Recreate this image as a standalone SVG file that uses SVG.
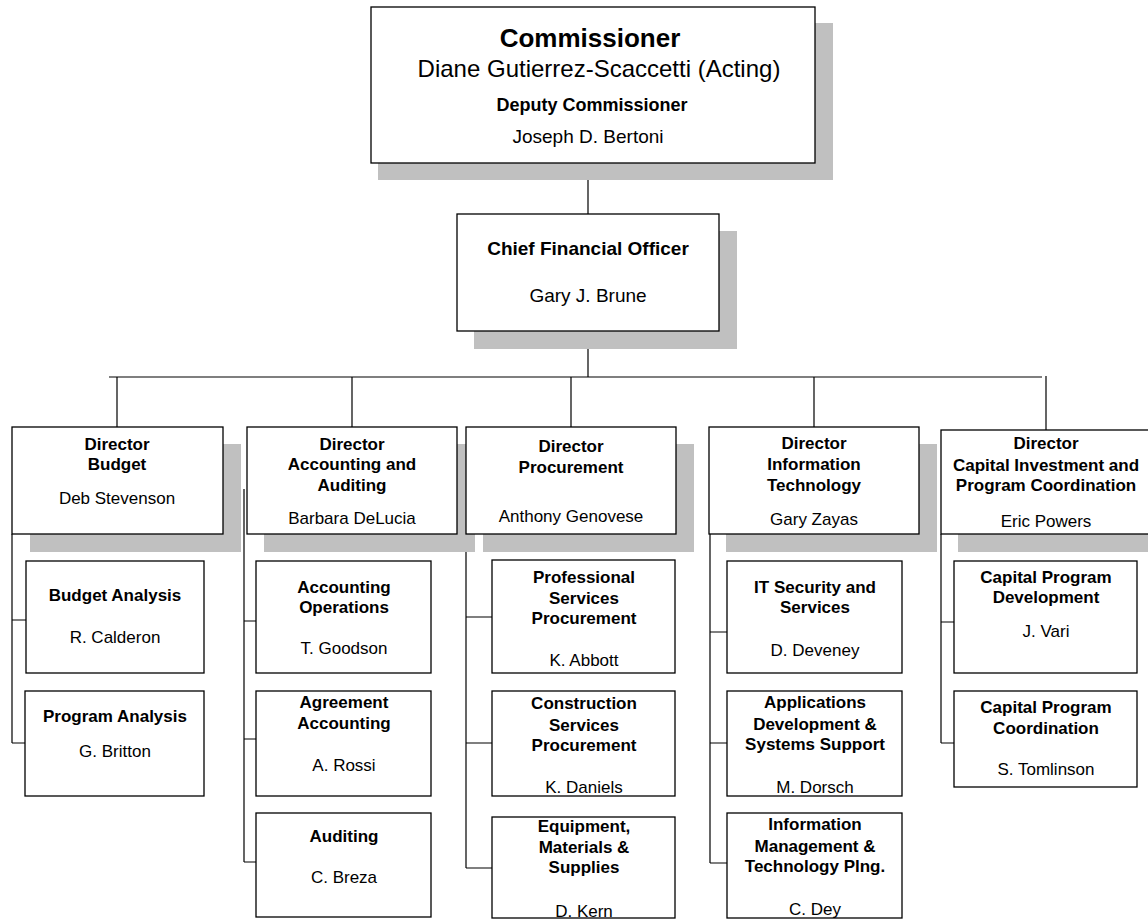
<svg xmlns="http://www.w3.org/2000/svg" width="1148" height="919" viewBox="0 0 1148 919">
<style>
.bg{fill:#ffffff}
.sh{fill:#c0c0c0}
.bx{fill:#ffffff;stroke:#000;stroke-width:1.3}
.ln{stroke:#000;stroke-width:1.2;fill:none}
text{font-family:"Liberation Sans",Arial,sans-serif;fill:#000;text-anchor:middle}
.b{font-weight:bold;font-size:17px}
.r{font-size:17px}
</style>
<rect class="bg" x="0" y="0" width="1148" height="919"/>
<g id="connectors">
<path class="ln" d="M588 163V214M588 331V377M109 377H1042M117 377V427M352 377V427M571 377V427M814 377V427M1046 376V430"/>
<path class="ln" d="M12 534V743M12 620H26M12 743H25"/>
<path class="ln" d="M244 489V862M244 621H256M244 739H256M244 862H256"/>
<path class="ln" d="M466 480V868M466 617H492M466 743H492M466 868H492"/>
<path class="ln" d="M710 534V863M710 632H727M710 743H727M710 863H727"/>
<path class="ln" d="M941 534V743M941 622H954M941 743H954"/>
</g>
<g id="commissioner">
<rect class="sh" x="378" y="23" width="455" height="157"/>
<rect class="bx" x="371" y="7" width="444" height="156"/>
<text x="590" y="47" style="font-weight:bold;font-size:26px">Commissioner</text>
<text x="599" y="77" style="font-size:24px">Diane Gutierrez-Scaccetti (Acting)</text>
<text x="592" y="111" style="font-weight:bold;font-size:18px">Deputy Commissioner</text>
<text x="588" y="143" style="font-size:19px">Joseph D. Bertoni</text>
</g>
<g id="cfo">
<rect class="sh" x="474" y="231" width="263" height="118"/>
<rect class="bx" x="457" y="214" width="262" height="117"/>
<text x="588" y="255" style="font-weight:bold;font-size:19px">Chief Financial Officer</text>
<text x="588" y="302" style="font-size:19px">Gary J. Brune</text>
</g>
<g id="dir-budget">
<rect class="sh" x="30" y="444" width="211" height="108"/>
<rect class="bx" x="12" y="427" width="211" height="107"/>
<text class="b" x="117" y="450">Director</text>
<text class="b" x="117" y="470">Budget</text>
<text class="r" x="117" y="504">Deb Stevenson</text>
</g>
<g id="dir-accounting">
<rect class="sh" x="264" y="444" width="211" height="108"/>
<rect class="bx" x="247" y="427" width="210" height="107"/>
<text class="b" x="352" y="450">Director</text>
<text class="b" x="352" y="470">Accounting and</text>
<text class="b" x="352" y="491">Auditing</text>
<text class="r" x="352" y="524">Barbara DeLucia</text>
</g>
<g id="dir-procurement">
<rect class="sh" x="483" y="444" width="211" height="108"/>
<rect class="bx" x="466" y="427" width="210" height="107"/>
<text class="b" x="571" y="452">Director</text>
<text class="b" x="571" y="473">Procurement</text>
<text class="r" x="571" y="522">Anthony Genovese</text>
</g>
<g id="dir-it">
<rect class="sh" x="726" y="444" width="211" height="108"/>
<rect class="bx" x="709" y="427" width="210" height="107"/>
<text class="b" x="814" y="449">Director</text>
<text class="b" x="814" y="470">Information</text>
<text class="b" x="814" y="491">Technology</text>
<text class="r" x="814" y="525">Gary Zayas</text>
</g>
<g id="dir-capital">
<rect class="sh" x="958" y="444" width="200" height="108"/>
<rect class="bx" x="941" y="430" width="220" height="104"/>
<text class="b" x="1046" y="449">Director</text>
<text class="b" x="1046" y="471">Capital Investment and</text>
<text class="b" x="1046" y="491">Program Coordination</text>
<text class="r" x="1046" y="527">Eric Powers</text>
</g>
<g id="budget-analysis">
<rect class="bx" x="26" y="561" width="178" height="112"/>
<text class="b" x="115" y="601">Budget Analysis</text>
<text class="r" x="115" y="643">R. Calderon</text>
</g>
<g id="program-analysis">
<rect class="bx" x="25" y="691" width="179" height="105"/>
<text class="b" x="115" y="722">Program Analysis</text>
<text class="r" x="115" y="757">G. Britton</text>
</g>
<g id="accounting-operations">
<rect class="bx" x="256" y="561" width="175" height="112"/>
<text class="b" x="344" y="593">Accounting</text>
<text class="b" x="344" y="613">Operations</text>
<text class="r" x="344" y="654">T. Goodson</text>
</g>
<g id="agreement-accounting">
<rect class="bx" x="256" y="691" width="175" height="105"/>
<text class="b" x="344" y="708">Agreement</text>
<text class="b" x="344" y="729">Accounting</text>
<text class="r" x="344" y="771">A. Rossi</text>
</g>
<g id="auditing">
<rect class="bx" x="256" y="813" width="175" height="104"/>
<text class="b" x="344" y="842">Auditing</text>
<text class="r" x="344" y="883">C. Breza</text>
</g>
<g id="professional-services">
<rect class="bx" x="492" y="560" width="183" height="113"/>
<text class="b" x="584" y="583">Professional</text>
<text class="b" x="584" y="604">Services</text>
<text class="b" x="584" y="624">Procurement</text>
<text class="r" x="584" y="666">K. Abbott</text>
</g>
<g id="construction-services">
<rect class="bx" x="492" y="691" width="183" height="105"/>
<text class="b" x="584" y="709">Construction</text>
<text class="b" x="584" y="731">Services</text>
<text class="b" x="584" y="751">Procurement</text>
<text class="r" x="584" y="793">K. Daniels</text>
</g>
<g id="equipment-materials">
<rect class="bx" x="492" y="817" width="183" height="101"/>
<text class="b" x="584" y="832">Equipment,</text>
<text class="b" x="584" y="853">Materials &amp;</text>
<text class="b" x="584" y="873">Supplies</text>
<text class="r" x="584" y="917">D. Kern</text>
</g>
<g id="it-security">
<rect class="bx" x="727" y="561" width="175" height="112"/>
<text class="b" x="815" y="593">IT Security and</text>
<text class="b" x="815" y="613">Services</text>
<text class="r" x="815" y="656">D. Deveney</text>
</g>
<g id="applications-development">
<rect class="bx" x="727" y="691" width="175" height="105"/>
<text class="b" x="815" y="708">Applications</text>
<text class="b" x="815" y="730">Development &amp;</text>
<text class="b" x="815" y="750">Systems Support</text>
<text class="r" x="815" y="793">M. Dorsch</text>
</g>
<g id="information-management">
<rect class="bx" x="727" y="813" width="175" height="105"/>
<text class="b" x="815" y="830">Information</text>
<text class="b" x="815" y="852">Management &amp;</text>
<text class="b" x="815" y="872">Technology Plng.</text>
<text class="r" x="815" y="915">C. Dey</text>
</g>
<g id="capital-program-development">
<rect class="bx" x="954" y="561" width="183" height="112"/>
<text class="b" x="1046" y="583">Capital Program</text>
<text class="b" x="1046" y="603">Development</text>
<text class="r" x="1046" y="637">J. Vari</text>
</g>
<g id="capital-program-coordination">
<rect class="bx" x="954" y="691" width="183" height="96"/>
<text class="b" x="1046" y="713">Capital Program</text>
<text class="b" x="1046" y="734">Coordination</text>
<text class="r" x="1046" y="775">S. Tomlinson</text>
</g>
</svg>
